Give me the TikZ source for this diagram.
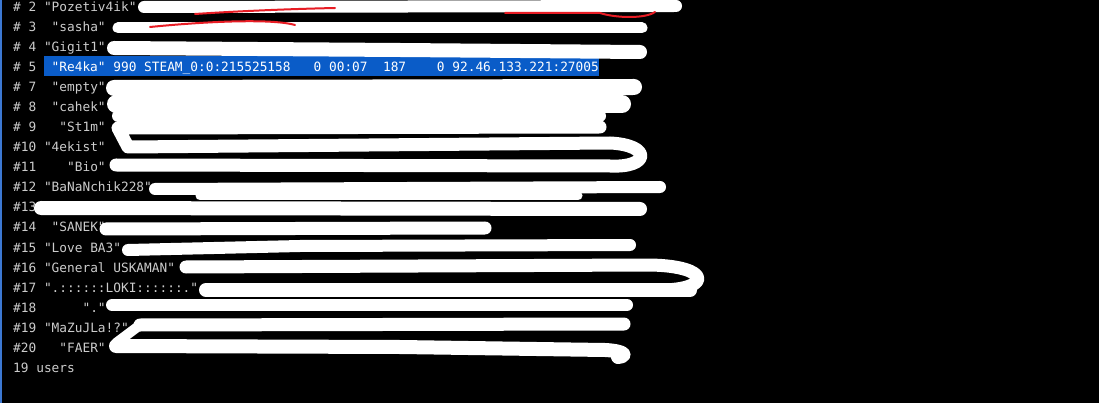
\documentclass[tikz,border=0pt]{standalone}
\usepackage{fontspec}
\usepackage{xcolor}
\newfontfamily\termfont{DejaVu Sans Mono}
\definecolor{termgray}{RGB}{204,204,204}
\definecolor{selblue}{RGB}{10,92,200}
\definecolor{penred}{RGB}{232,28,36}
\definecolor{edgeblue}{RGB}{60,120,210}

\tikzset{
  row/.style={anchor=base west, inner sep=0pt, text=termgray,
    font=\termfont\fontsize{12.8}{14}\selectfont},
  selrow/.style={row, text=white, fill=selblue, text height=15.5pt, text depth=4pt},
  scrib/.style={draw=white, line width=#1, line cap=round, line join=round},
  scrib/.default=11,
  redpen/.style={draw=penred, line width=2pt, line cap=round}
}

\begin{document}
\begin{tikzpicture}[x=1pt, y=-1pt]
    \useasboundingbox (0,0) rectangle (1099,403);
    \fill[black] (0,0) rectangle (1099,403);
    \draw[edgeblue, line width=1.5pt] (0.75,0) -- (0.75,403);

    % console rows, baseline every 20px
    \node[row] (r2) at (13,12) {\#~2~"Pozetiv4ik"};
    \node[row] (r3) at (13,32) {\#~3~~"sasha"};
    \node[row] (r4) at (13,52) {\#~4~"Gigit1"};
    \node[row] (r5) at (13,72) {\#~5};
    \node[selrow] (r5sel) at (43.8,72) {~"Re4ka"~990~STEAM\_0:0:215525158~~~0~00:07~~187~~~~0~92.46.133.221:27005};
    \node[row] (r7) at (13,92) {\#~7~~"empty"};
    \node[row] (r8) at (13,112) {\#~8~~"cahek"};
    \node[row] (r9) at (13,132) {\#~9~~~"St1m"};
    \node[row] (r10) at (13,152) {\#10~"4ekist"};
    \node[row] (r11) at (13,172) {\#11~~~~"Bio"};
    \node[row] (r12) at (13,192) {\#12~"BaNaNchik228"};
    \node[row] (r13) at (13,212) {\#13};
    \node[row] (r14) at (13,232) {\#14~~"SANEK"};
    \node[row] (r15) at (13,252) {\#15~"Love~BA3"};
    \node[row] (r16) at (13,272) {\#16~"General~USKAMAN"};
    \node[row] (r17) at (13,292) {\#17~".::::::LOKI::::::."};
    \node[row] (r18) at (13,312) {\#18~~~~~~"."};
    \node[row] (r19) at (13,332) {\#19~"MaZuJLa!?"};
    \node[row] (r20) at (13,352) {\#20~~~"FAER"};
    \node[row] (users) at (13,372) {19~users};

    % white scribbles over the rest of each row
    \draw[scrib=12] (144,7) -- (676,6);
    \draw[scrib=11] (118,28) -- (642,28);
    \draw[scrib=14] (114,48) -- (400,50) -- (640,52);
    \draw[scrib=16] (114,88) -- (634,87);
    \draw[scrib=18] (116,104) -- (622,104);
    \draw[scrib=12] (118,116) -- (600,116);
    \draw[scrib=13] (600,127) -- (118,128) -- (128,147) -- (610,143)
        .. controls (652,145) and (650,168) .. (610,166) -- (116,165);
    \draw[scrib=12] (155,189) -- (660,187);
    \draw[scrib=9] (200,196) -- (578,196);
    \draw[scrib=14] (41,208) -- (640,209);
    \draw[scrib=13] (106,229) -- (485,228);
    \draw[scrib=12] (128,250) -- (300,246) -- (630,245);
    \draw[scrib=13] (186,267) -- (650,265)
        .. controls (712,266) and (712,290) .. (660,290) -- (206,290);
    \draw[scrib=14] (206,290) -- (690,290);
    \draw[scrib=12] (112,305) -- (627,305);
    \draw[scrib=13] (140,325) -- (624,324);
    \draw[scrib=10] (140,325) -- (116,343);
    \draw[scrib=14] (116,346) -- (400,347) -- (605,350)
        .. controls (625,351) and (628,356) .. (618,357);

    % red pen marks
    \draw[redpen] (195,14) .. controls (240,11) and (290,9) .. (335,8);
    \draw[redpen] (505,13) -- (600,13) .. controls (615,18) and (645,19) .. (655,12);
    \draw[redpen] (150,27) .. controls (200,22) and (270,18) .. (295,25);
\end{tikzpicture}
\end{document}
